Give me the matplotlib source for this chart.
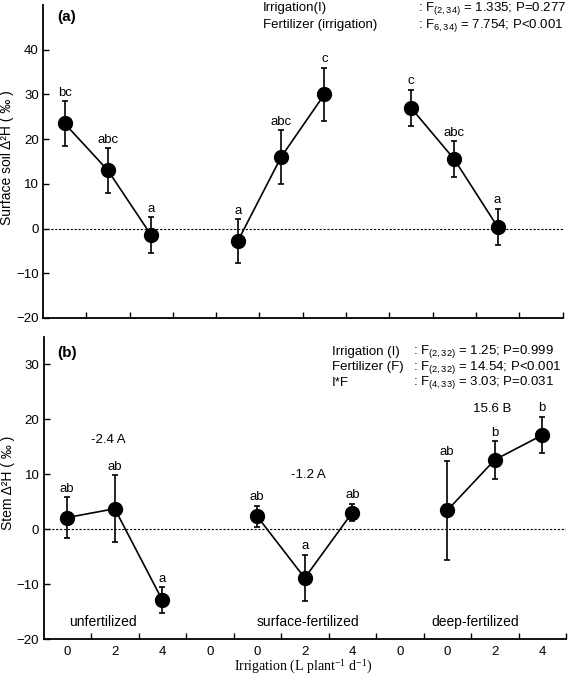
import matplotlib
matplotlib.use("Agg")
import matplotlib.pyplot as plt

plt.rcParams['font.family'] = ['Liberation Sans', 'DejaVu Sans']
plt.rcParams['mathtext.fontset'] = 'custom'
plt.rcParams['mathtext.rm'] = 'Liberation Sans'
plt.rcParams['mathtext.it'] = 'Liberation Sans:italic'
plt.rcParams['mathtext.bf'] = 'Liberation Sans:bold'

# ---------------- data ----------------
irrigation_levels = ["0", "2", "4"]
bottom_tick_labels = ["0", "2", "4", "0", "0", "2", "4", "0", "0", "2", "4"]

soil_mean = [[23.5, 13.0, -1.5], [-2.8, 16.0, 30.0], [27.0, 15.5, 0.4]]
soil_err = [[5.0, 5.0, 4.0], [4.9, 6.0, 6.0], [4.0, 4.0, 4.0]]
soil_letters = [["bc", "abc", "a"], ["a", "abc", "c"], ["c", "abc", "a"]]

stem_mean = [[2.1, 3.7, -12.9], [2.3, -8.9, 3.0], [3.4, 12.6, 17.1]]
stem_err = [[3.7, 6.1, 2.3], [1.9, 4.2, 1.6], [9.0, 3.4, 3.3]]
stem_letters = [["ab", "ab", "a"], ["ab", "a", "ab"], ["ab", "b", "b"]]

group_names = ["unfertilized", "surface-fertilized", "deep-fertilized"]
group_means = ["-2.4 A", "-1.2 A", "15.6 B"]

stats_a = [("Irrigation(I)", r": F$_{(2,34)}$ = 1.335; P=0.277"),
           ("Fertilizer (irrigation)", r": F$_{6,34)}$ = 7.754; P<0.001")]
stats_b = [("Irrigation (I)", r": F$_{(2,32)}$ = 1.25; P=0.999"),
           ("Fertilizer (F)", r": F$_{(2,32)}$ = 14.54; P<0.001"),
           ("I*F", r": F$_{(4,33)}$ = 3.03; P=0.031")]

FS = 9.5

fig = plt.figure(figsize=(5.68, 6.77), dpi=100)
ax1 = fig.add_axes([43/568, 1-318/677, 519.5/568, 313/677])
ax2 = fig.add_axes([43.5/568, 1-639/677, 522.5/568, 302.3/677])


def style(ax):
    for s in ["top", "right"]:
        ax.spines[s].set_visible(False)
    for s in ["left", "bottom"]:
        ax.spines[s].set_linewidth(1.3)
    ax.tick_params(axis='y', direction='in', length=4, width=1, labelsize=FS, pad=3)
    ax.axhline(0, color='black', lw=0.8, ls=(0, (2, 1.5)), zorder=1)


def draw(ax, means, errs, letters):
    for g in range(3):
        xs = [g * 4 + i for i in range(3)]
        ax.errorbar(xs, means[g], yerr=errs[g], fmt='o-', color='black',
                    ms=10, lw=1.2, elinewidth=1.2, capsize=2.5, capthick=1.2, zorder=3)
        for x, m, e, t in zip(xs, means[g], errs[g], letters[g]):
            ax.annotate(t, (x, m + e), xytext=(0, 4), textcoords='offset points',
                        ha='center', va='baseline', fontsize=FS)


# ---------- panel (a) ----------
style(ax1)
draw(ax1, soil_mean, soil_err, soil_letters)
ax1.set_xlim(-0.5, 11.5)
ax1.set_ylim(-20, 50)
ax1.set_yticks(range(-20, 41, 10))
ax1.set_xticks([k + 0.5 for k in range(12)])
ax1.set_xticklabels([])
ax1.tick_params(axis='x', direction='in', length=4, width=1)
ax1.set_ylabel("Surface soil Δ²H ( ‰ )", fontsize=10)
ax1.yaxis.set_label_coords(-0.055, 0.511)
ax1.text(0.027, 0.962, "(a)", transform=ax1.transAxes, fontsize=11,
         fontweight='bold', va='center', ha='left')
for k, (lab, val) in enumerate(stats_a):
    y = 0.990 - k * 0.054
    ax1.text(0.4235, y, lab, transform=ax1.transAxes, fontsize=FS, va='center', ha='left')
    ax1.text(0.722, y, val, transform=ax1.transAxes, fontsize=FS, va='center', ha='left')

# ---------- panel (b) ----------
style(ax2)
draw(ax2, stem_mean, stem_err, stem_letters)
ax2.set_xlim(-0.5, 10.5)
ax2.set_ylim(-20, 35)
ax2.set_yticks(range(-20, 31, 10))
ax2.set_xticks(range(11))
ax2.set_xticklabels(bottom_tick_labels)
ax2.set_xticks([k + 0.5 for k in range(11)], minor=True)
ax2.tick_params(axis='x', which='major', length=0, labelsize=FS, pad=5)
ax2.tick_params(axis='x', which='minor', direction='in', length=4, width=1)
ax2.set_ylabel("Stem Δ²H ( ‰ )", fontsize=10)
ax2.yaxis.set_label_coords(-0.055, 0.515)
ax2.text(0.026, 0.945, "(b)", transform=ax2.transAxes, fontsize=11,
         fontweight='bold', va='center', ha='left')
for k, (lab, val) in enumerate(stats_b):
    y = 0.950 - k * 0.051
    ax2.text(0.5516, y, lab, transform=ax2.transAxes, fontsize=FS, va='center', ha='left')
    ax2.text(0.707, y, val, transform=ax2.transAxes, fontsize=FS, va='center', ha='left')

name_x = [0.75, 5.07, 8.58]
mean_pos = [(0.87, 16.2), (5.07, 9.9), (8.95, 21.9)]
for nx, name in zip(name_x, group_names):
    ax2.text(nx, -16.9, name, fontsize=10, ha='center', va='center')
for (mx, my), lab in zip(mean_pos, group_means):
    ax2.text(mx, my, lab, fontsize=FS, ha='center', va='center')

fig.text(303/568, 1-667/677, r"Irrigation (L plant$^{\mathregular{-1}}$ d$^{\mathregular{-1}}$)",
         fontsize=10, family='Liberation Serif', math_fontfamily='stix',
         ha='center', va='center')

fig.savefig("out.png", dpi=100)
